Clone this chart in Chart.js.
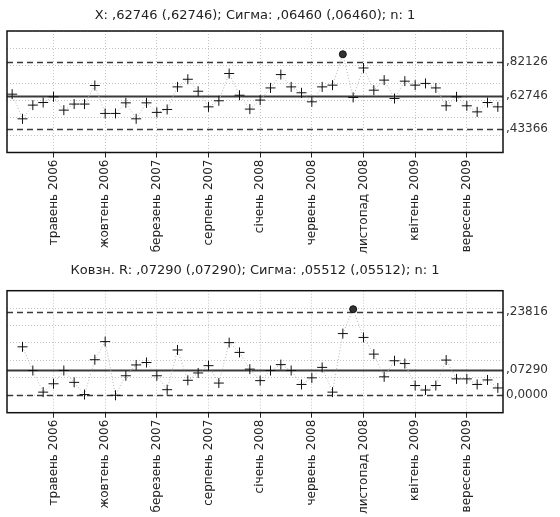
<!DOCTYPE html>
<html><head><meta charset="utf-8">
<script src="https://cdn.jsdelivr.net/npm/chart.js@4"></script>
<style>body{margin:0;background:#fff;width:560px;height:517px;overflow:hidden}canvas{position:absolute;left:0}</style>
</head><body>
<canvas id="c1" width="560" height="258" style="top:0"></canvas>
<canvas id="c2" width="560" height="259" style="top:258px"></canvas>
<script>
const categories = [
 'січень 2006','лютий 2006','березень 2006','квітень 2006','травень 2006','червень 2006','липень 2006','серпень 2006','вересень 2006','жовтень 2006','листопад 2006','грудень 2006',
 'січень 2007','лютий 2007','березень 2007','квітень 2007','травень 2007','червень 2007','липень 2007','серпень 2007','вересень 2007','жовтень 2007','листопад 2007','грудень 2007',
 'січень 2008','лютий 2008','березень 2008','квітень 2008','травень 2008','червень 2008','липень 2008','серпень 2008','вересень 2008','жовтень 2008','листопад 2008','грудень 2008',
 'січень 2009','лютий 2009','березень 2009','квітень 2009','травень 2009','червень 2009','липень 2009','серпень 2009','вересень 2009','жовтень 2009','листопад 2009','грудень 2009'
];
const xValues = [
 0.636,0.494,0.573,0.588,0.621,0.544,0.579,0.579,0.686,0.525,
 0.525,0.586,0.494,0.586,0.531,0.548,0.678,0.722,0.653,0.563,
 0.598,0.755,0.630,0.550,0.602,0.672,0.749,0.678,0.644,0.592,
 0.678,0.688,0.866,0.617,0.787,0.659,0.717,0.611,0.711,0.688,
 0.698,0.672,0.569,0.621,0.569,0.534,0.588,0.563
];
const mrValues = [
 null,0.139,0.071,0.009,0.033,0.071,0.037,0.002,0.102,0.154,
 0.000,0.056,0.087,0.094,0.056,0.016,0.130,0.043,0.064,0.085,
 0.035,0.151,0.123,0.075,0.042,0.071,0.088,0.071,0.031,0.050,
 0.080,0.009,0.177,0.247,0.166,0.118,0.053,0.099,0.091,0.028,
 0.015,0.028,0.101,0.047,0.047,0.031,0.044,0.021
];
const xLimits = [0.82126, 0.62746, 0.43366];       // UCL, CL, LCL
const xLimitLabels = [',82126', ',62746', ',43366'];
const mrLimits = [0.23816, 0.07290, 0];
const mrLimitLabels = [',23816', ',07290', '0,0000'];
const xTitle = 'X: ,62746 (,62746); Сигма: ,06460 (,06460); n: 1';
const mrTitle = 'Ковзн. R: ,07290 (,07290); Сигма: ,05512 (,05512); n: 1';

const FONT = 'DejaVu Sans';
const controlPlugin = {
  id: 'control',
  beforeDatasetsDraw(chart, args, opts) {
    const {ctx, chartArea: a} = chart;
    const y = chart.scales.y;
    ctx.save();
    opts.limits.forEach((v, i) => {
      const py = Math.round(y.getPixelForValue(v)) + 0.5;
      ctx.beginPath();
      ctx.strokeStyle = '#3a3a3a';
      if (i === 1) { ctx.setLineDash([]); ctx.lineWidth = 2; }
      else { ctx.setLineDash([6, 4]); ctx.lineWidth = 1.3; }
      ctx.moveTo(a.left, py); ctx.lineTo(a.right, py); ctx.stroke();
    });
    ctx.restore();
  },
  afterDraw(chart) {
    const {ctx, chartArea: a} = chart;
    ctx.save();
    ctx.strokeStyle = '#111'; ctx.lineWidth = 1.5; ctx.setLineDash([]);
    ctx.strokeRect(a.left, a.top, a.right - a.left, a.bottom - a.top);
    ctx.restore();
  }
};

function makeChart(id, values, limits, limitLabels, title, yMin, yMax, step, titlePad, xh) {
  const ucl = limits[0];
  return new Chart(document.getElementById(id), {
    type: 'line',
    data: { labels: categories, datasets: [{
      data: values,
      borderColor: '#b5b5b5', borderWidth: 1, borderDash: [1, 2],
      pointStyle: c => (c.raw > ucl ? 'circle' : 'cross'),
      pointRadius: c => (c.raw > ucl ? 3.5 : 5),
      pointBackgroundColor: '#333', pointBorderColor: '#111', pointBorderWidth: 1,
      tension: 0
    }]},
    options: {
      responsive: false, animation: false, devicePixelRatio: 1,
      layout: { padding: 0 },
      plugins: {
        legend: { display: false }, tooltip: { enabled: false },
        title: { display: true, text: title, fullSize: false, color: '#222',
                 font: { family: FONT, size: 13, weight: 'normal', lineHeight: 1.1 }, padding: titlePad },
        control: { limits }
      },
      scales: {
        x: {
          offset: true,
          ticks: { autoSkip: false, maxRotation: 90, minRotation: 90, color: '#222', padding: 2,
                   font: { family: FONT, size: 12 },
                   callback: function (v, i) { return i % 5 === 4 ? this.getLabelForValue(v) : null; } },
          grid: { color: '#c4c4c4', tickColor: '#222', tickLength: 5, tickBorderDash: [] },
          border: { display: false, dash: [1, 2] },
          afterFit: s => { s.height = xh; }
        },
        y: {
          position: 'left', min: yMin, max: yMax,
          ticks: { display: false, stepSize: step },
          grid: { color: '#c4c4c4', drawTicks: false },
          border: { display: false, dash: [1, 2] },
          afterFit: s => { s.width = 7; }
        },
        y2: {
          position: 'right', min: yMin, max: yMax,
          afterBuildTicks: s => { s.ticks = limits.map(v => ({ value: v })); },
          ticks: { autoSkip: false, color: '#333', padding: 3, font: { family: FONT, size: 12 },
                   callback: (v, i) => limitLabels[i] },
          grid: { display: false, drawTicks: false },
          border: { display: false },
          afterFit: s => { s.width = 57; }
        }
      }
    },
    plugins: [controlPlugin]
  });
}

makeChart('c1', xValues, xLimits, xLimitLabels, xTitle, 0.3, 1.0, 0.1, { top: 8, bottom: 8.7 }, 105.5);
makeChart('c2', mrValues, mrLimits, mrLimitLabels, mrTitle, -0.05, 0.30, 0.05, { top: 5, bottom: 13.4 }, 104.3);
</script>
</body></html>
